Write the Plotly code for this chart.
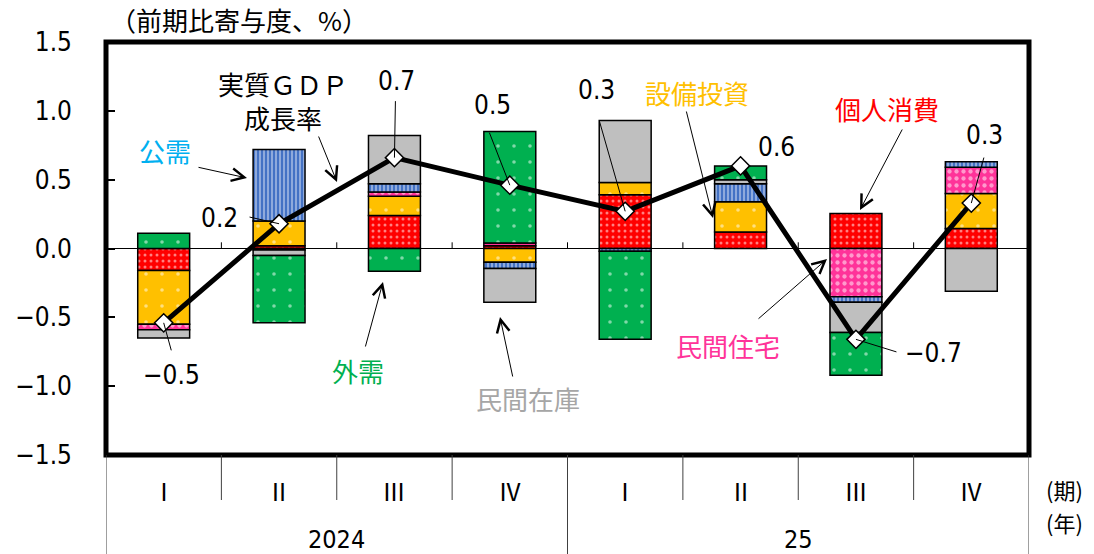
import plotly.graph_objects as go

quarters = ["Ⅰ", "Ⅱ", "Ⅲ", "Ⅳ", "Ⅰ", "Ⅱ", "Ⅲ", "Ⅳ"]
years = ["2024", "25"]
consumption = [-0.16, 0.02, 0.24, 0.02, 0.39, 0.12, 0.255, 0.145]
investment = [-0.39, 0.18, 0.14, -0.10, 0.09, 0.22, None, 0.255]
housing = [-0.04, -0.01, 0.03, 0.02, None, None, -0.35, 0.19]
public = [None, 0.52, 0.06, -0.045, -0.02, 0.13, -0.04, 0.04]
inventory = [-0.06, -0.04, 0.35, -0.245, 0.45, 0.03, -0.22, -0.31]
external = [0.11, -0.49, -0.165, 0.81, -0.64, 0.10, -0.31, None]
gdp = [-0.54, 0.18, 0.66, 0.46, 0.27, 0.60, -0.66, 0.33]
gdp_labels = ["−0.5", "0.2", "0.7", "0.5", "0.3", "0.6", "−0.7", "0.3"]

JP = "Noto Sans CJK JP"
NUM = "DejaVu Sans Condensed, Liberation Sans Narrow, Noto Sans CJK JP, sans-serif"

# plot area in pixels
L, R, T, B = 106, 1029, 42, 455
W, H = 1094, 554


def paper(px, py):
    """pixel position -> paper coords"""
    return (px - L) / (R - L), (B - py) / (B - T)


x = list(range(len(quarters)))
series = [
    (consumption, "#FF0000", ".", 6, 0.2),
    (investment, "#FFC000", ".", 16, 0.04),
    (housing, "#FF3399", ".", 7, 0.3),
    (public, "#4472C4", "|", 4, 0.4),
    (inventory, "#BFBFBF", "", 8, 0.3),
    (external, "#00B050", ".", 16, 0.04),
]

fig = go.Figure()
for values, color, shape, size, solidity in series:
    fig.add_trace(
        go.Bar(
            x=x,
            y=values,
            width=0.45,
            marker=dict(
                color=color,
                line=dict(color="black", width=1.5),
                pattern=dict(
                    shape=shape,
                    fgcolor="white",
                    bgcolor=color,
                    size=size,
                    solidity=solidity,
                ),
            ),
            showlegend=False,
        )
    )

fig.add_trace(
    go.Scatter(
        x=x,
        y=gdp,
        mode="lines+markers",
        line=dict(color="black", width=5),
        marker=dict(
            symbol="diamond",
            size=14,
            color="white",
            line=dict(color="black", width=1.5),
        ),
        showlegend=False,
    )
)

fig.update_layout(
    width=W,
    height=H,
    autosize=False,
    margin=dict(l=L, r=W - R, t=T, b=H - B, pad=0),
    barmode="relative",
    plot_bgcolor="white",
    paper_bgcolor="white",
    font=dict(family=JP, size=22, color="black"),
)
fig.update_xaxes(
    range=[-0.5, 7.5],
    showticklabels=False,
    ticks="",
    showgrid=False,
    zeroline=False,
    showline=False,
)
fig.update_yaxes(
    range=[-1.5, 1.5],
    tickvals=[-1.5, -1.0, -0.5, 0, 0.5, 1.0, 1.5],
    tickformat=".1f",
    ticks="inside",
    ticklen=9,
    tickwidth=1.5,
    tickcolor="black",
    ticklabelstandoff=33,
    tickfont=dict(family=NUM, size=26),
    showgrid=False,
    zeroline=True,
    zerolinecolor="black",
    zerolinewidth=1,
    showline=False,
)

shapes = []
# frame
shapes.append(
    dict(type="rect", xref="paper", yref="paper", x0=0, x1=1, y0=0, y1=1,
         line=dict(color="black", width=5), layer="above")
)
# small ticks on the zero line at quarter boundaries
for i in range(len(quarters) - 1):
    shapes.append(
        dict(type="line", xref="x", yref="y", x0=i + 0.5, x1=i + 0.5, y0=0, y1=0.045,
             line=dict(color="black", width=1))
    )
# category table under the plot
quarter_drop = paper(0, 500)[1]
year_drop = paper(0, 554)[1]
for i in range(len(quarters) + 1):
    b = i - 0.5
    y_end = year_drop if i % 4 == 0 else quarter_drop
    shapes.append(
        dict(type="line", xref="x", yref="paper", x0=b, x1=b, y0=0, y1=y_end,
             line=dict(color="#404040", width=1))
    )
fig.update_layout(shapes=shapes)


def text_at(px, py, text, font):
    """centered text at a pixel position"""
    xp, yp = paper(px, py)
    return dict(x=xp, y=yp, xref="paper", yref="paper", text=text, showarrow=False,
                xanchor="center", yanchor="middle", font=font)


ann = []
qy = paper(0, 490)[1]
for i, q in enumerate(quarters):
    ann.append(dict(x=i, y=qy, xref="x", yref="paper", text=q, showarrow=False,
                    xanchor="center", yanchor="middle", font=dict(family=JP, size=24)))
yy = paper(0, 539)[1]
for j, yr in enumerate(years):
    ann.append(dict(x=j * 4 + 1.5, y=yy, xref="x", yref="paper", text=yr, showarrow=False,
                    xanchor="center", yanchor="middle", font=dict(family=NUM, size=25)))
ann.append(text_at(1064, 489, "(期)", dict(family=JP, size=22)))
ann.append(text_at(1064, 522, "(年)", dict(family=JP, size=22)))
ann.append(text_at(239, 19, "（前期比寄与度、%）", dict(family=JP, size=26)))

# GDP value labels with leader lines (offsets in px from the marker)
label_pos = [
    # (line tail dx, dy, text dx, dy)
    (8, 29, 8, 52),
    (-31, -7, -60, -6),
    (1, -58, 2, -77),
    (-21, -54, -17, -80),
    (-26, -91, -29, -121),
    (None, None, 36, -19),
    (42, 13, 78, 14),
    (13, -47, 13, -68),
]
for i, (lab, (ldx, ldy, tdx, tdy)) in enumerate(zip(gdp_labels, label_pos)):
    if ldx is not None:
        ann.append(dict(x=i, y=gdp[i], xref="x", yref="y", text="", showarrow=True,
                        arrowhead=0, arrowwidth=1, arrowcolor="black",
                        ax=ldx, ay=ldy, standoff=0))
    ann.append(dict(x=i, y=gdp[i], xref="x", yref="y", text=lab, showarrow=False,
                    xanchor="center", yanchor="middle",
                    xshift=tdx, yshift=-tdy, font=dict(family=NUM, size=26)))

# component labels: (text, colour, text px, arrow tail px, arrow head px)
comp_labels = [
    ("公需", "#00B0F0", (165, 150), (197, 167), (247, 178)),
    ("実質ＧＤＰ<br>成長率", "black", (283, 100), (318, 135), (337, 182)),
    ("設備投資", "#FFC000", (697, 93), (686, 110), (713, 218)),
    ("個人消費", "#FF0000", (887, 108), (903, 128), (860, 210)),
    ("外需", "#00B050", (358, 370), (365, 348), (383, 282)),
    ("民間在庫", "#A6A6A6", (528, 398), (513, 378), (500, 317)),
    ("民間住宅", "#FF3399", (728, 345), (757, 320), (827, 259)),
]
for txt, color, tpos, tail, head in comp_labels:
    ann.append(text_at(*tpos, txt, dict(family=JP, size=26, color=color)))
    hx, hy = paper(*head)
    ann.append(dict(x=hx, y=hy, xref="paper", yref="paper", text="", showarrow=True,
                    arrowhead=5, arrowsize=2.5, arrowwidth=1, arrowcolor="black",
                    ax=tail[0] - head[0], ay=tail[1] - head[1], standoff=0))

fig.update_layout(annotations=ann)
# the page body has a default 8px margin; drop it so the figure fills the window
fig.write_html(
    "out.html",
    config={"displayModeBar": False},
    post_script="document.body.style.margin='0';",
)
